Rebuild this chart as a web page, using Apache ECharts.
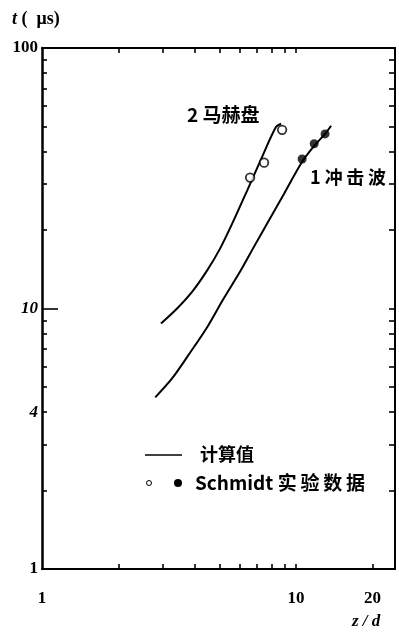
<!DOCTYPE html>
<html><head><meta charset="utf-8">
<script src="https://cdn.jsdelivr.net/npm/echarts@6/dist/echarts.min.js"></script>
<style>html,body{margin:0;padding:0;background:#fff}#c{width:399px;height:635px}</style>
</head><body><div id="c"></div>
<script>
// Calculated curve: 2 Mach disk
const machX = [2.94, 3.40, 3.93, 4.46, 5.02, 5.65, 6.41, 7.35, 8.34, 8.73];
const machY = [8.76, 10.0, 11.72, 13.98, 16.98, 21.54, 28.3, 38.2, 49.8, 51.2];
// Calculated curve: 1 shock wave
const shockX = [2.79, 3.25, 3.83, 4.46, 5.16, 6.02, 6.83, 7.76, 8.97, 10.56, 11.78, 13.0, 13.73];
const shockY = [4.56, 5.39, 6.78, 8.46, 10.83, 13.86, 17.28, 21.54, 27.6, 36.6, 42.1, 46.8, 50.3];
// Schmidt experimental data
const machExpX = [6.59, 7.48, 8.81];
const machExpY = [31.8, 36.3, 48.5];
const shockExpX = [10.56, 11.78, 13.0];
const shockExpY = [37.5, 42.9, 46.8];
// Axis ticks / labels
const xTickLabels = [1, 10, 20];
const xTicks = [2, 3, 4, 5, 6, 7, 8, 9, 10, 20];
const xTopTicks = [2, 3, 4, 5, 6, 7, 8, 9, 10];
const yTickLabels = [1, 4, 10, 100];
const yTicks = [2, 3, 4, 5, 6, 7, 8, 9, 20, 30, 40, 50, 60, 70, 80, 90];
const yMajorTicks = [10];

const zip = (a, b) => a.map((v, i) => [v, b[i]]);
const serif = 'Liberation Serif';
const black = '#000';

const chart = echarts.init(document.getElementById('c'), null, {renderer: 'canvas'});
const axisLineStyle = {color: black, width: 2};
const tickStyle = {color: black, width: 1.6};

chart.setOption({
  animation: false,
  backgroundColor: '#fff',
  grid: {left: 42, right: 4, top: 48, bottom: 66, containLabel: false},
  xAxis: [
    {type: 'log', logBase: 10, min: 1, max: 24.5, position: 'bottom',
     axisLine: {show: true, lineStyle: axisLineStyle},
     axisTick: {show: true, inside: true, length: 5, customValues: xTicks, lineStyle: tickStyle},
     axisLabel: {show: true, customValues: xTickLabels, margin: 21, color: black,
       fontFamily: serif, fontWeight: 'bold', fontSize: 17},
     splitLine: {show: false}, minorTick: {show: false}},
    {type: 'log', logBase: 10, min: 1, max: 24.5, position: 'top',
     axisLine: {show: true, lineStyle: axisLineStyle},
     axisTick: {show: true, inside: true, length: 5, customValues: xTopTicks, lineStyle: tickStyle},
     axisLabel: {show: false}, splitLine: {show: false}}
  ],
  yAxis: [
    {type: 'log', logBase: 10, min: 1, max: 100, position: 'left',
     axisLine: {show: true, lineStyle: {color: black, width: 2.5}},
     axisTick: {show: true, inside: true, length: 5, customValues: yTicks, lineStyle: tickStyle},
     axisLabel: {show: true, customValues: yTickLabels, margin: 4, color: black,
       fontFamily: serif, fontWeight: 'bold', fontSize: 17,
       formatter: v => (v == 10 || v == 4) ? '{i|' + v + '}' : '' + v,
       rich: {i: {fontStyle: 'italic', fontFamily: serif, fontWeight: 'bold', fontSize: 17, color: black}}},
     splitLine: {show: false}},
    {type: 'log', logBase: 10, min: 1, max: 100, position: 'left',
     axisLine: {show: false},
     axisTick: {show: true, inside: true, length: 16, customValues: yMajorTicks, lineStyle: tickStyle},
     axisLabel: {show: false}, splitLine: {show: false}},
    {type: 'log', logBase: 10, min: 1, max: 100, position: 'right',
     axisLine: {show: true, lineStyle: axisLineStyle},
     axisTick: {show: true, inside: true, length: 6, customValues: yTicks.concat(yMajorTicks), lineStyle: tickStyle},
     axisLabel: {show: false}, splitLine: {show: false}}
  ],
  series: [
    {name: '2 马赫盘', type: 'line', xAxisIndex: 0, yAxisIndex: 0, data: zip(machX, machY),
     smooth: 0.3, showSymbol: false, symbol: 'none', lineStyle: {color: black, width: 2}},
    {name: '1 冲击波', type: 'line', xAxisIndex: 0, yAxisIndex: 0, data: zip(shockX, shockY),
     smooth: 0.3, showSymbol: false, symbol: 'none', lineStyle: {color: black, width: 2}},
    {name: 'Schmidt 马赫盘', type: 'scatter', xAxisIndex: 0, yAxisIndex: 0, data: zip(machExpX, machExpY),
     symbol: 'circle', symbolSize: 8.5, itemStyle: {color: '#fff', borderColor: black, borderWidth: 1.8}, z: 5},
    {name: 'Schmidt 冲击波', type: 'scatter', xAxisIndex: 0, yAxisIndex: 0, data: zip(shockExpX, shockExpY),
     symbol: 'circle', symbolSize: 9, itemStyle: {color: black}, z: 5}
  ],
  graphic: [
    {type: 'text', left: 12, top: 10, style: {text: '{i|t} (  μs)', fill: black, font: 'bold 18px "Liberation Serif"',
      rich: {i: {fontStyle: 'italic', fontFamily: serif, fontWeight: 'bold', fontSize: 18}}}},
    {type: 'text', left: 352, top: 613, style: {text: 'z / d', fill: black, font: 'italic bold 17px "Liberation Serif"'}},
    {type: 'text', left: 187, top: 105, style: {text: '2 马赫盘', fill: black, font: 'bold 19px "Noto Sans CJK SC"'}},
    {type: 'text', left: 310, top: 168, style: {text: '1 冲\u2009击\u2009波', fill: black, font: 'bold 18px "Noto Sans CJK SC"'}},
    {type: 'line', shape: {x1: 145, y1: 455, x2: 182, y2: 455}, style: {stroke: black, lineWidth: 1.5}},
    {type: 'text', left: 200, top: 445, style: {text: '计算值', fill: black, font: 'bold 18px "Noto Sans CJK SC"'}},
    {type: 'circle', shape: {cx: 149, cy: 483, r: 2.5}, style: {fill: '#fff', stroke: black, lineWidth: 1}},
    {type: 'circle', shape: {cx: 178, cy: 483, r: 4}, style: {fill: black}},
    {type: 'text', left: 195, top: 473, style: {text: 'Schmidt 实\u2009验\u2009数\u2009据', fill: black, font: 'bold 19px "Noto Sans CJK SC"'}}
  ]
});
</script></body></html>
